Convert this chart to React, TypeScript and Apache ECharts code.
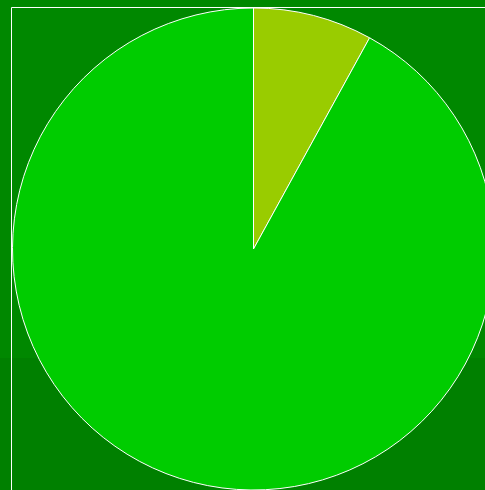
import React, { useEffect, useRef } from "react";
import * as echarts from "echarts";

const categories = ["A", "B"];
const values = [8, 92];
const colors = ["#99cc00", "#00cc00"];

export default function App() {
  const ref = useRef<HTMLDivElement>(null);
  useEffect(() => {
    if (!ref.current) return;
    const chart = echarts.init(ref.current, null, { renderer: "svg" });
    chart.setOption({
      animation: false,
      backgroundColor: "#008000",
      graphic: [
        {
          type: "rect",
          z: -10,
          silent: true,
          shape: { x: 0, y: 0, width: 485, height: 358 },
          style: { fill: "#008800" },
        },
        {
          type: "rect",
          z: -5,
          silent: true,
          shape: { x: 11.5, y: 7.5, width: 490, height: 500 },
          style: { fill: "none", stroke: "#ffffff", lineWidth: 1 },
        },
      ],
      series: [
        {
          type: "pie",
          center: [253.5, 249],
          radius: 241,
          startAngle: 90,
          clockwise: true,
          label: { show: false },
          labelLine: { show: false },
          emphasis: { disabled: true },
          itemStyle: { borderColor: "#ffffff", borderWidth: 1 },
          data: categories.map((c, i) => ({
            name: c,
            value: values[i],
            itemStyle: { color: colors[i] },
          })),
        },
      ],
    });
    return () => chart.dispose();
  }, []);
  return (
    <div
      ref={ref}
      style={{ position: "fixed", left: 0, top: 0, width: 485, height: 490 }}
    />
  );
}
